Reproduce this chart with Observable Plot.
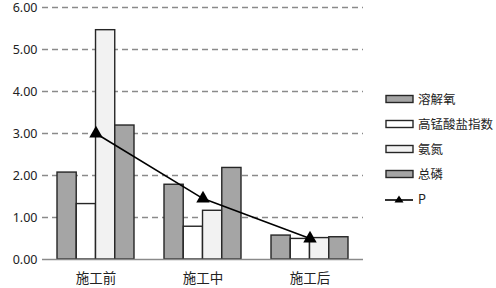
<!DOCTYPE html>
<html><head><meta charset="utf-8">
<script src="https://cdn.jsdelivr.net/npm/d3@7"></script>
<script src="https://cdn.jsdelivr.net/npm/@observablehq/plot@0.6"></script>
<style>
body{margin:0;background:#fff;}
#wrap{position:relative;width:496px;height:288px;overflow:hidden;}
#chart svg{overflow:visible;}
#legend{position:absolute;left:385px;top:86px;font-family:"Noto Sans CJK SC","Noto Sans",sans-serif;font-size:12.5px;color:#222;}
.item{display:flex;align-items:center;height:25px;}
.item svg{margin-right:3px;}
</style></head>
<body><div id="wrap"><div id="chart"></div><div id="legend"></div></div>
<script>
const groups = ["施工前", "施工中", "施工后"];
const seriesNames = ["溶解氧", "高锰酸盐指数", "氨氮", "总磷"];
const dissolvedO2 = [2.07, 1.78, 0.57];
const permanganate = [1.32, 0.78, 0.49];
const ammonia = [5.46, 1.16, 0.51];
const totalP = [3.19, 2.18, 0.53];
const pValues = [3.0, 1.45, 0.50];
const yTicks = [0, 1, 2, 3, 4, 5, 6];

const seriesValues = [dissolvedO2, permanganate, ammonia, totalP];
const fills = ["#a5a5a5", "#ffffff", "#f2f2f2", "#a5a5a5"];

const W = 496, H = 288, mL = 42, mR = 133, mT = 7, mB = 29;
const pInner = 0.28, pOuter = 0.14;
const step = (W - mL - mR) / (groups.length - pInner + 2 * pOuter);
const bw = step * (1 - pInner);
const sub = bw / seriesNames.length;

const barMarks = seriesNames.map((name, j) =>
  Plot.barY(groups.map((g, i) => ({group: g, value: seriesValues[j][i]})), {
    x: "group", y: "value", fill: fills[j], stroke: "#262626", strokeWidth: 1.4,
    insetLeft: j * sub, insetRight: (seriesNames.length - 1 - j) * sub
  })
);
const pData = groups.map((g, i) => ({group: g, value: pValues[i]}));

const chart = Plot.plot({
  width: W, height: H, marginLeft: mL, marginRight: mR, marginTop: mT, marginBottom: mB,
  style: {fontFamily: "'Noto Sans', sans-serif", fontSize: "12px", color: "#222", background: "#fff", overflow: "visible"},
  x: {domain: groups, paddingInner: pInner, paddingOuter: pOuter, label: null},
  y: {domain: [0, 6], label: null},
  marks: [
    Plot.ruleY(yTicks.filter(t => t > 0), {stroke: "#8a8a8a", strokeWidth: 1.3, strokeDasharray: "6,4"}),
    ...barMarks,
    Plot.ruleY([0], {stroke: "#8a8a8a", strokeWidth: 1.3}),
    Plot.line(pData, {x: "group", y: "value", stroke: "#000", strokeWidth: 1.6}),
    Plot.dot(pData, {x: "group", y: "value", symbol: "triangle", fill: "#000", r: 5}),
    Plot.axisY({ticks: yTicks, tickFormat: d3.format(".2f"), tickSize: 0, tickPadding: 5, fontSize: 12.5}),
    Plot.axisX({tickSize: 0, tickPadding: 14, fontSize: 13.5, fontFamily: "'Noto Sans CJK SC', sans-serif"})
  ]
});
document.getElementById("chart").appendChild(chart);

const legend = document.getElementById("legend");
const legendNames = [...seriesNames, "P"];
legendNames.forEach((name, k) => {
  const item = document.createElement("div");
  item.className = "item";
  let sw;
  if (k < seriesNames.length) {
    sw = `<svg width="30" height="10"><rect x="1" y="1.5" width="27" height="7" fill="${fills[k]}" stroke="#262626" stroke-width="1.4"/></svg>`;
  } else {
    sw = `<svg width="30" height="10"><line x1="0" y1="6" x2="28" y2="6" stroke="#000" stroke-width="1.6"/><path d="M14,1.5 L18.5,8.5 L9.5,8.5 Z" fill="#000"/></svg>`;
  }
  item.innerHTML = sw + `<span>${name}</span>`;
  legend.appendChild(item);
});
</script></body></html>
